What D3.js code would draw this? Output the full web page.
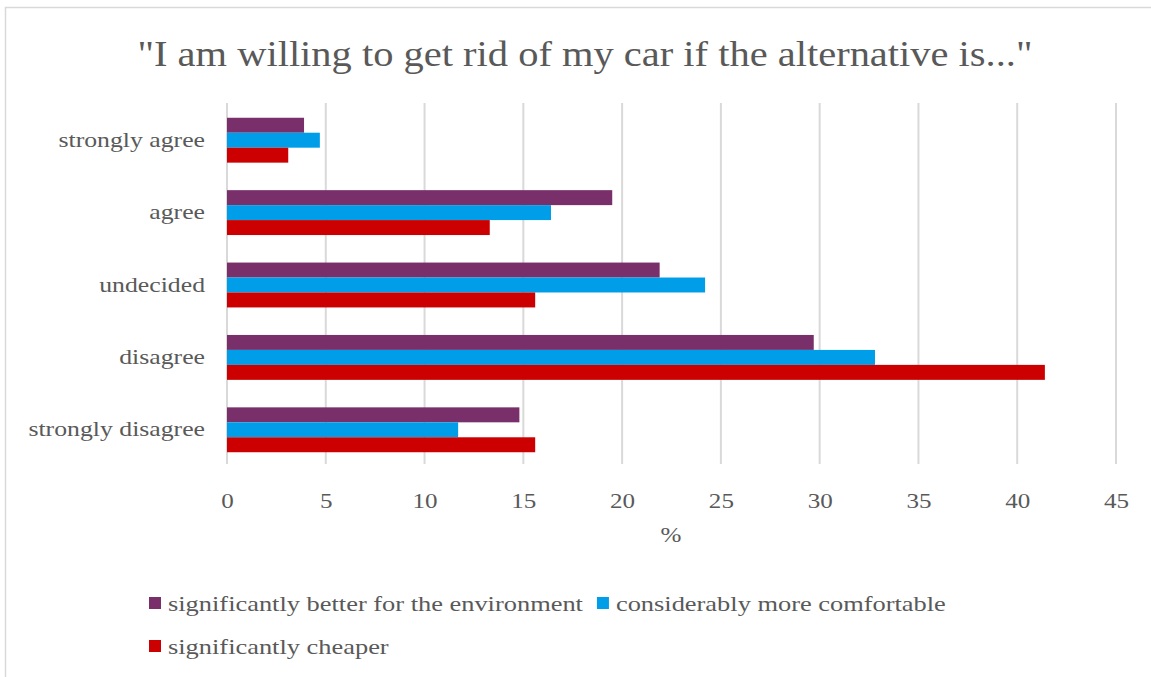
<!DOCTYPE html>
<html lang="en">
<head>
<meta charset="UTF-8">
<title>Car alternative</title>
<script src="https://d3js.org/d3.v7.min.js"></script>
<style>
  body { margin: 0; background: #fff; }
  svg { display: block; }
</style>
</head>
<body>
<svg></svg>
<script>
const categories = ["strongly agree", "agree", "undecided", "disagree", "strongly disagree"];
const seriesNames = ["significantly better for the environment", "considerably more comfortable", "significantly cheaper"];
const environment = [3.9, 19.5, 21.9, 29.7, 14.8];
const comfortable = [4.7, 16.4, 24.2, 32.8, 11.7];
const cheaper = [3.1, 13.3, 15.6, 41.4, 15.6];
const xTicks = [0, 5, 10, 15, 20, 25, 30, 35, 40, 45];

const colors = ["#782f6a", "#009de8", "#cc0000"];
const series = [environment, comfortable, cheaper];

const width = 1151, height = 677;
const FONT = '"Liberation Serif"';
const TXT = "#595959";
const WIDEN = 1.14; // Georgia runs wider than Liberation Serif

const svg = d3.select("svg").attr("width", width).attr("height", height);

function widen(sel, k) {
  sel.each(function () {
    const w = this.getComputedTextLength();
    d3.select(this).attr("textLength", w * k).attr("lengthAdjust", "spacingAndGlyphs");
  });
}

// chart frame
svg.append("rect")
  .attr("x", 5.5).attr("y", 7.5)
  .attr("width", width + 10).attr("height", height + 10)
  .attr("fill", "none").attr("stroke", "#d9d9d9").attr("stroke-width", 1.5);

svg.append("text")
  .attr("x", 585).attr("y", 66)
  .attr("text-anchor", "middle")
  .attr("font-family", FONT).attr("font-size", 35).attr("fill", TXT)
  .text('"I am willing to get rid of my car if the alternative is..."')
  .attr("textLength", 895).attr("lengthAdjust", "spacingAndGlyphs");

const x = d3.scaleLinear().domain([0, 45]).range([227, 1116]);
const y = d3.scaleBand().domain(categories).range([104, 466]).paddingInner(0.38).paddingOuter(0.19);
const ySub = d3.scaleBand().domain(d3.range(3)).range([0, y.bandwidth()]);

// gridlines
svg.append("g")
  .selectAll("line")
  .data(xTicks)
  .join("line")
  .attr("x1", d => x(d)).attr("x2", d => x(d))
  .attr("y1", 103).attr("y2", 464)
  .attr("stroke", "#d9d9d9").attr("stroke-width", 2);

// bars
const rows = [];
series.forEach((vals, si) => vals.forEach((v, ci) => rows.push({ si, cat: categories[ci], v })));
svg.append("g")
  .selectAll("rect")
  .data(rows)
  .join("rect")
  .attr("x", x(0))
  .attr("y", d => y(d.cat) + ySub(d.si))
  .attr("width", d => x(d.v) - x(0))
  .attr("height", ySub.bandwidth())
  .attr("fill", d => colors[d.si]);

// x axis labels
const gx = svg.append("g").attr("transform", "translate(0,500)")
  .call(d3.axisBottom(x).tickValues(xTicks).tickSize(0).tickPadding(0));
gx.select(".domain").remove();
gx.attr("font-family", FONT).attr("font-size", 22);
gx.selectAll("text").attr("fill", TXT).attr("dy", "0.35em").attr("y", 0);
widen(gx.selectAll("text"), WIDEN);

// y axis labels
const gy = svg.append("g").attr("transform", `translate(${x(0)},0)`)
  .call(d3.axisLeft(y).tickSize(0).tickPadding(22));
gy.select(".domain").remove();
gy.attr("font-family", FONT).attr("font-size", 22);
gy.selectAll("text").attr("fill", TXT).attr("dy", "0.3em");
widen(gy.selectAll("text"), 1.17);

const xTitle = svg.append("text")
  .attr("x", 671).attr("y", 542)
  .attr("text-anchor", "middle")
  .attr("font-family", FONT).attr("font-size", 22).attr("fill", TXT)
  .text("%");
widen(xTitle, WIDEN);

// legend: first row flows left to right, third item wraps
const legend = svg.append("g");
let lx = 149;
const rowsY = [611, 654];
seriesNames.forEach((name, i) => {
  const row = i < 2 ? 0 : 1;
  if (i === 2) lx = 149;
  const g = legend.append("g").attr("transform", `translate(${lx},${rowsY[row]})`);
  g.append("rect")
    .attr("x", 0).attr("y", -14).attr("width", 12).attr("height", 12)
    .attr("fill", colors[i]);
  const t = g.append("text")
    .attr("x", 19).attr("y", 0)
    .attr("font-family", FONT).attr("font-size", 22).attr("fill", TXT)
    .text(name);
  const w = t.node().getComputedTextLength();
  t.attr("textLength", w * 1.2).attr("lengthAdjust", "spacingAndGlyphs");
  lx += 19 + w * 1.2 + 14;
});
</script>
</body>
</html>
